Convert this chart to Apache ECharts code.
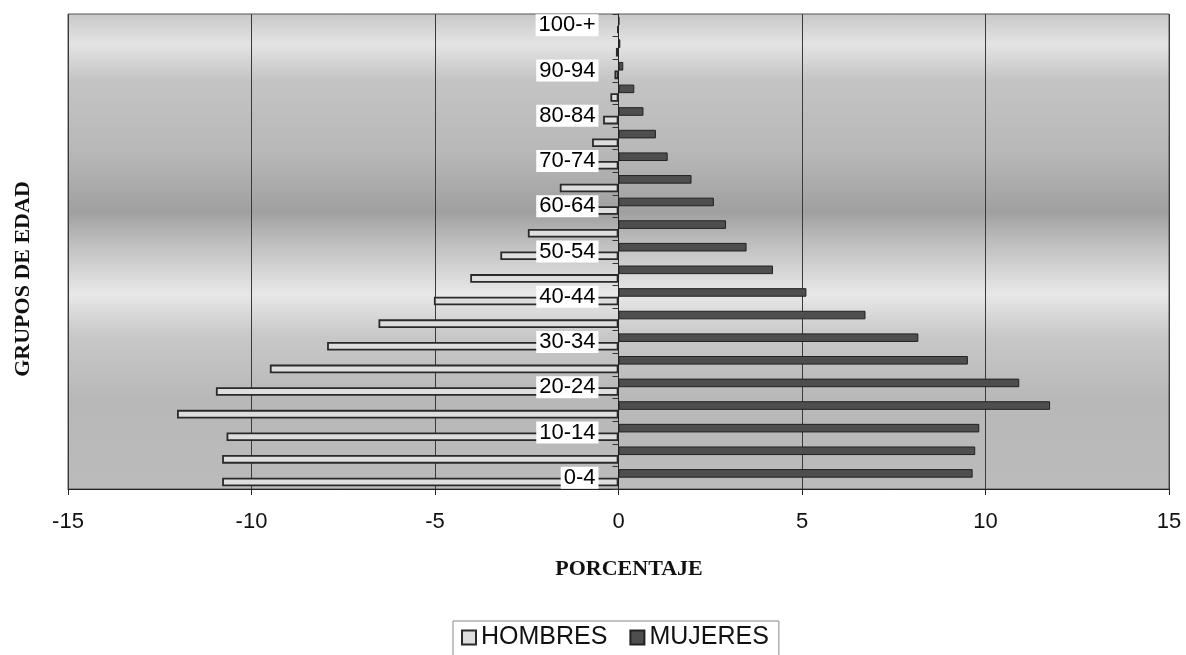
<!DOCTYPE html>
<html>
<head>
<meta charset="utf-8">
<script src="https://cdn.jsdelivr.net/npm/echarts/dist/echarts.min.js"></script>
<style>
html,body{margin:0;padding:0;background:#fff;}
#chart{width:1186px;height:655px;}
</style>
</head>
<body>
<div id="chart"></div>
<script>
const categories = ['0-4','5-9','10-14','15-19','20-24','25-29','30-34','35-39','40-44','45-49','50-54','55-59','60-64','65-69','70-74','75-79','80-84','85-89','90-94','95-99','100-+'];
const hombres = [-10.80, -10.80, -10.68, -12.03, -10.97, -9.50, -7.94, -6.54, -5.03, -4.04, -3.22, -2.47, -2.0, -1.6, -1.1, -0.72, -0.42, -0.22, -0.11, -0.07, -0.03];
const mujeres = [9.65, 9.72, 9.83, 11.76, 10.92, 9.52, 8.17, 6.73, 5.12, 4.21, 3.49, 2.93, 2.60, 1.99, 1.34, 1.02, 0.68, 0.43, 0.13, 0.05, 0.02];
const xTicks = [-15, -10, -5, 0, 5, 10, 15];
const seriesNames = ['HOMBRES', 'MUJERES'];
const xTitle = 'PORCENTAJE';
const yTitle = 'GRUPOS DE EDAD';

const chart = echarts.init(document.getElementById('chart'));
const sans = "'Liberation Sans', Arial, sans-serif";
const serif = "'Liberation Serif', 'Times New Roman', serif";

const bg = new echarts.graphic.LinearGradient(0, 0, 0, 1, [
  {offset: 0, color: '#c8c8c8'},
  {offset: 0.065, color: '#e4e4e4'},
  {offset: 0.14, color: '#c4c4c4'},
  {offset: 0.29, color: '#b8b8b8'},
  {offset: 0.417, color: '#a0a0a0'},
  {offset: 0.486, color: '#c0c0c0'},
  {offset: 0.59, color: '#e8e8e8'},
  {offset: 0.676, color: '#c8c8c8'},
  {offset: 0.81, color: '#b8b8b8'},
  {offset: 1, color: '#bbbbbb'}
]);

// age-group labels placed on the zero line (every other group)
const labelPoints = categories.map((c, i) => (i % 2 === 0 ? [0, c] : null)).filter(Boolean);

chart.setOption({
  animation: false,
  backgroundColor: '#fff',
  grid: {
    left: 68, right: 17, top: 14, bottom: 166,
    outerBoundsMode: 'none', containLabel: false,
    show: true, backgroundColor: bg, borderColor: '#555', borderWidth: 1
  },
  legend: {
    data: seriesNames,
    left: 453, top: 621,
    padding: [4, 10, 12, 8],
    icon: 'rect',
    itemWidth: 14, itemHeight: 14, itemGap: 22,
    borderColor: '#888', borderWidth: 1,
    textStyle: {fontFamily: sans, fontSize: 25, color: '#111'}
  },
  xAxis: {
    type: 'value',
    min: xTicks[0], max: xTicks[xTicks.length - 1], interval: 5,
    axisLine: {show: true, onZero: false, lineStyle: {color: '#222', width: 1}},
    axisTick: {show: true, length: 6, lineStyle: {color: '#222'}},
    axisLabel: {fontFamily: sans, fontSize: 22, color: '#111', margin: 22},
    splitLine: {show: true, lineStyle: {color: '#3a3a3a', width: 1}}
  },
  yAxis: {
    type: 'category',
    data: categories,
    z: 5,
    axisLine: {show: true, onZero: true, lineStyle: {color: '#222', width: 1}},
    axisTick: {show: true, length: 6, interval: 0, lineStyle: {color: '#333'}},
    axisLabel: {show: false},
    splitLine: {show: false}
  },
  graphic: [
    {type: 'text', x: 629, y: 569,
     style: {text: xTitle, font: 'bold 22px ' + serif, fill: '#111', align: 'center', verticalAlign: 'middle'}},
    {type: 'text', rotation: Math.PI / 2, x: 23, y: 279,
     style: {text: yTitle, font: 'bold 22px ' + serif, fill: '#111', align: 'center', verticalAlign: 'middle'}}
  ],
  series: [
    {
      name: seriesNames[1], type: 'bar', data: mujeres,
      barGap: '0%', barCategoryGap: '24%',
      itemStyle: {color: '#4e4e4e', borderColor: '#222', borderWidth: 1}
    },
    {
      name: seriesNames[0], type: 'bar', data: hombres,
      barGap: '0%', barCategoryGap: '24%',
      itemStyle: {color: '#dedede', borderColor: '#2a2a2a', borderWidth: 1.8}
    },
    {
      name: 'etiquetas', type: 'scatter', data: labelPoints,
      symbolSize: 0, z: 10, silent: true,
      itemStyle: {opacity: 1, color: '#000'},
      label: {
        show: true, position: 'left', distance: 20,
        formatter: p => p.value[1],
        fontFamily: sans, fontSize: 22, color: '#000', opacity: 1,
        backgroundColor: '#fff', padding: [0, 3, 0, 3]
      }
    }
  ]
});
</script>
</body>
</html>
